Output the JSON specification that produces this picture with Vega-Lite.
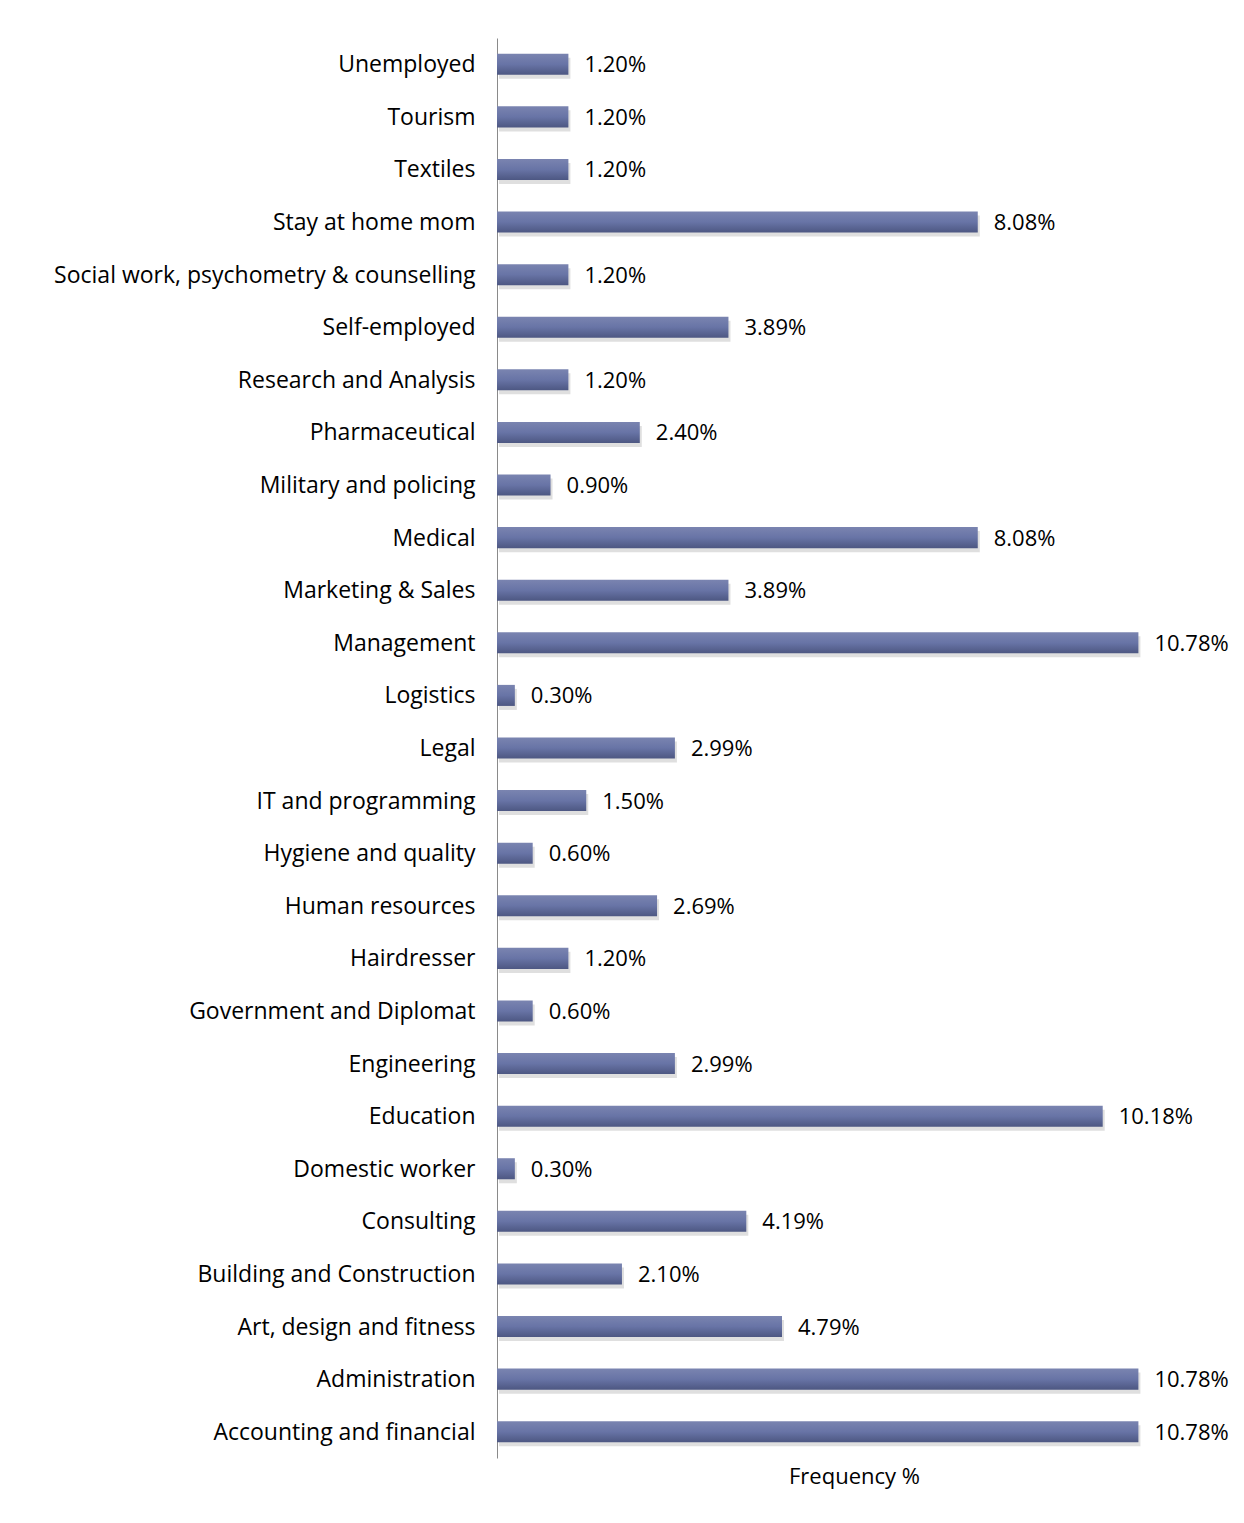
{
  "$schema": "https://vega.github.io/schema/vega-lite/v6.json",
  "width": 714,
  "height": 1420,
  "autosize": {"type": "none"},
  "padding": {"left": 497, "top": 38, "right": 33, "bottom": 65},
  "background": "white",
  "config": {"view": {"stroke": null}, "font": "Open Sans"},
  "data": {"values": [
    {"sector": "Unemployed", "value": 1.20, "label": "1.20%"},
    {"sector": "Tourism", "value": 1.20, "label": "1.20%"},
    {"sector": "Textiles", "value": 1.20, "label": "1.20%"},
    {"sector": "Stay at home mom", "value": 8.08, "label": "8.08%"},
    {"sector": "Social work, psychometry & counselling", "value": 1.20, "label": "1.20%"},
    {"sector": "Self-employed", "value": 3.89, "label": "3.89%"},
    {"sector": "Research and Analysis", "value": 1.20, "label": "1.20%"},
    {"sector": "Pharmaceutical", "value": 2.40, "label": "2.40%"},
    {"sector": "Military and policing", "value": 0.90, "label": "0.90%"},
    {"sector": "Medical", "value": 8.08, "label": "8.08%"},
    {"sector": "Marketing & Sales", "value": 3.89, "label": "3.89%"},
    {"sector": "Management", "value": 10.78, "label": "10.78%"},
    {"sector": "Logistics", "value": 0.30, "label": "0.30%"},
    {"sector": "Legal", "value": 2.99, "label": "2.99%"},
    {"sector": "IT and programming", "value": 1.50, "label": "1.50%"},
    {"sector": "Hygiene and quality", "value": 0.60, "label": "0.60%"},
    {"sector": "Human resources", "value": 2.69, "label": "2.69%"},
    {"sector": "Hairdresser", "value": 1.20, "label": "1.20%"},
    {"sector": "Government and Diplomat", "value": 0.60, "label": "0.60%"},
    {"sector": "Engineering", "value": 2.99, "label": "2.99%"},
    {"sector": "Education", "value": 10.18, "label": "10.18%"},
    {"sector": "Domestic worker", "value": 0.30, "label": "0.30%"},
    {"sector": "Consulting", "value": 4.19, "label": "4.19%"},
    {"sector": "Building and Construction", "value": 2.10, "label": "2.10%"},
    {"sector": "Art, design and fitness", "value": 4.79, "label": "4.79%"},
    {"sector": "Administration", "value": 10.78, "label": "10.78%"},
    {"sector": "Accounting and financial", "value": 10.78, "label": "10.78%"}
  ]},
  "encoding": {
    "y": {
      "field": "sector", "type": "nominal", "sort": null,
      "scale": {"paddingInner": 0.6, "paddingOuter": 0.3},
      "axis": {
        "title": null, "ticks": false, "labelPadding": 22,
        "labelFontSize": 23, "labelColor": "black", "labelFont": "Open Sans",
        "domainColor": "#8a8a8a", "domainWidth": 1, "labelLimit": 600, "labelOffset": 1
      }
    },
    "x": {
      "field": "value", "type": "quantitative",
      "scale": {"domain": [0, 12], "nice": false},
      "axis": {
        "title": "Frequency %", "labels": false, "ticks": false, "domain": false, "grid": false,
        "titleFontSize": 22, "titleFontWeight": "normal", "titleColor": "black", "titlePadding": 8, "titleFont": "Open Sans"
      }
    }
  },
  "layer": [
    {
      "mark": {"type": "bar", "color": "#b8b8b8", "opacity": 0.45, "yOffset": 4, "xOffset": 2}
    },
    {
      "mark": {
        "type": "bar",
        "fill": {
          "gradient": "linear", "x1": 0, "y1": 0, "x2": 0, "y2": 1,
          "stops": [
            {"offset": 0, "color": "#7a84b0"},
            {"offset": 0.5, "color": "#6874a6"},
            {"offset": 1, "color": "#4d5782"}
          ]
        }
      }
    },
    {
      "mark": {"type": "text", "align": "left", "baseline": "middle", "dx": 16, "dy": 1, "fontSize": 22, "color": "black", "font": "Open Sans"},
      "encoding": {"text": {"field": "label"}}
    }
  ]
}
